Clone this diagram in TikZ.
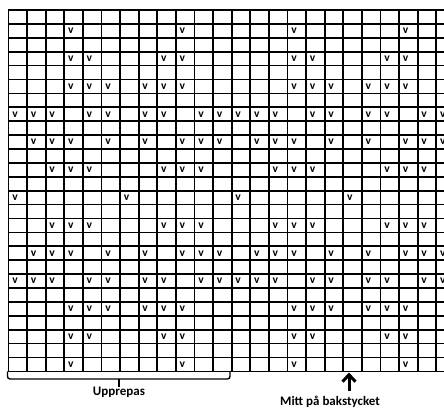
\documentclass[tikz,border=0pt]{standalone}
\usepackage{fontspec}
\setmainfont{Carlito}
\usetikzlibrary{arrows.meta}
\begin{document}
\begin{tikzpicture}[x=1pt,y=-1pt,
  gridline/.style={line width=1.7pt, black, line cap=rect},
  vmark/.style={font=\bfseries\fontsize{11.5}{13}\selectfont, inner sep=0pt, anchor=center},
  lbl/.style={font=\bfseries\fontsize{13}{15}\selectfont, inner sep=0pt, anchor=base},
  bracket/.style={line width=1.4pt, rounded corners=2.5pt},
  pointer/.style={line width=3pt, -{Straight Barb[length=7pt,width=13pt]}}]
\useasboundingbox (0,0) rectangle (444,409);
\clip (0,0) rectangle (444,409);
\fill[white] (0,0) rectangle (444,409);
% grid
\foreach \r in {0,...,26}
  \draw[gridline] (8.5,{10+\r*13.9}) -- (456,{10+\r*13.9});
\foreach \c in {0,...,24}
  \draw[gridline] ({8.5+\c*18.6},10) -- ({8.5+\c*18.6},371.4);
% v marks
\foreach \r/\cols in {
  1/{3,9,15,21},
  3/{3,4,8,9,15,16,20,21},
  5/{3,4,5,7,8,9,15,16,17,19,20,21},
  7/{0,1,2,4,5,7,8,10,11,12,13,14,16,17,19,20,22,23},
  9/{1,2,3,5,7,9,10,11,13,14,15,17,19,21,22,23},
  11/{2,3,4,8,9,10,14,15,16,20,21,22},
  13/{0,6,12,18},
  15/{2,3,4,8,9,10,14,15,16,20,21,22},
  17/{1,2,3,5,7,9,10,11,13,14,15,17,19,21,22,23},
  19/{0,1,2,4,5,7,8,10,11,12,13,14,16,17,19,20,22,23},
  21/{3,4,5,7,8,9,15,16,17,19,20,21},
  23/{3,4,8,9,15,16,20,21},
  25/{3,9,15,21}}
  \foreach \c in \cols
    \node[vmark] (v-\r-\c) at ({8.5+\c*18.6+6.5},{10+(\r+0.5)*13.9}) {v};
% bracket "Upprepas"
\coordinate (bl) at (7.5,371.4);
\coordinate (bm) at (119,379);
\coordinate (bt) at (119,386.5);
\coordinate (br) at (230,371.4);
\draw[bracket] (bl) |- (bm) -| (br);
\draw[line width=1.8pt] (bm) -- (bt);
\node[lbl] (rep) at (119,395) {Upprepas};
% arrow "Mitt på bakstycket"
\coordinate (as) at (349,391);
\coordinate (ae) at (349,372.5);
\draw[pointer] (as) -- (ae);
\node[lbl] (mid) at (330,405.5) {Mitt på bakstycket};
\end{tikzpicture}
\end{document}
